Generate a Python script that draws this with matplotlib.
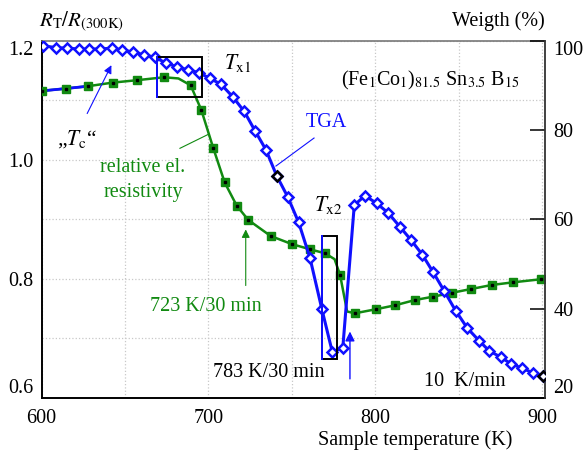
import matplotlib
matplotlib.use("Agg")
import matplotlib.pyplot as plt
from matplotlib.patches import Rectangle

plt.rcParams['font.family'] = ['Liberation Serif', 'DejaVu Serif']
plt.rcParams['mathtext.fontset'] = 'stix'

# ---------------- data ----------------
tga_T = [601.0, 608.7, 615.4, 622.3, 628.6, 635.0, 642.0, 648.2, 655.0, 661.4,
         668.0, 674.4, 681.0, 688.0, 694.3, 700.9, 707.5, 714.5, 721.4, 727.8,
         734.4, 740.8, 747.5, 754.0, 760.8, 767.8, 774.1, 780.4, 787.3, 793.7,
         800.7, 807.7, 814.7, 821.2, 828.0, 834.6, 841.2, 848.0, 855.0, 862.0,
         868.1, 875.0, 881.1, 887.9, 894.1, 900.5]
tga_W = [98.95, 98.5, 98.4, 98.2, 98.2, 98.2, 98.4, 98.0, 97.5, 96.9,
         96.3, 95.1, 94.2, 93.5, 92.9, 91.6, 90.3, 87.5, 84.2, 79.9,
         75.6, 69.8, 65.0, 59.3, 51.3, 40.0, 30.3, 31.1, 63.2, 65.3,
         63.6, 61.4, 58.3, 55.4, 52.1, 48.1, 43.9, 39.5, 35.6, 32.8,
         30.5, 29.1, 27.6, 26.6, 25.6, 24.9]
tga_black_T = [740.8, 900.5]
tga_black_W = [69.8, 24.9]

res_T = [600.0, 614.5, 628.0, 642.6, 657.0, 673.4, 689.3, 695.7, 702.9, 709.7,
         716.9, 723.8, 737.2, 749.8, 760.8, 769.8, 778.8, 787.7, 800.1, 811.7,
         823.7, 834.6, 846.0, 857.2, 869.6, 882.5, 898.9]
res_R = [1.116, 1.120, 1.124, 1.130, 1.134, 1.139, 1.1255, 1.084, 1.0195, 0.962,
         0.923, 0.899, 0.872, 0.8585, 0.8496, 0.8429, 0.8064, 0.742, 0.7487, 0.7554,
         0.7643, 0.770, 0.7766, 0.7828, 0.7896, 0.7941, 0.7992]
# line path of the smoothed resistivity curve (markers + read bend points)
res_line_T = [600.0, 614.5, 628.0, 642.6, 657.0, 673.4, 682.0, 689.3, 695.7, 702.9,
              709.7, 716.9, 723.8, 737.2, 749.8, 760.8, 769.8, 775.5, 778.8, 783.0,
              787.7, 800.1, 811.7, 823.7, 834.6, 846.0, 857.2, 869.6, 882.5, 898.9]
res_line_R = [1.116, 1.120, 1.124, 1.130, 1.134, 1.139, 1.137, 1.1255, 1.084, 1.0195,
              0.962, 0.923, 0.899, 0.872, 0.8585, 0.8496, 0.8429, 0.833, 0.8064, 0.745,
              0.742, 0.7487, 0.7554, 0.7643, 0.770, 0.7766, 0.7828, 0.7896, 0.7941, 0.7992]

x_ticks = [600, 700, 800, 900]
x_minor = [650, 750, 850]
y_ticks = [0.6, 0.8, 1.0, 1.2]
y_minor = [0.7, 0.9, 1.1]
w_ticks = [20, 40, 60, 80, 100]

GREEN = '#118a11'
BLUE = '#1010ff'

# ---------------- figure ----------------
fig = plt.figure(figsize=(5.88, 4.5), dpi=100)
ax = fig.add_axes([41.5 / 588, 1 - 397.7 / 450, (545 - 41.5) / 588, (397.7 - 41) / 450])
ax.set_xlim(600, 901.5)
ax.set_ylim(0.6, 1.2)
ax.set_xticks(x_ticks)
ax.set_xticks(x_minor, minor=True)
ax.set_yticks(y_ticks)
ax.set_yticks(y_minor, minor=True)
ax.set_yticklabels(['%.1f' % v for v in y_ticks])
ax.grid(True, which='both', color='#c8c8c8', linestyle=':', linewidth=0.9)
ax.set_axisbelow(True)
ax.tick_params(which='both', length=0, labelsize=14.5)
ax.tick_params(axis='x', pad=8)
ax.tick_params(axis='y', pad=6)
for lab in ax.get_yticklabels():
    if lab.get_text() == '1.2':
        lab.set_va('top')
    elif lab.get_text() == '0.6':
        lab.set_va('bottom')
for s in ['left', 'bottom']:
    ax.spines[s].set_color('black')
    ax.spines[s].set_linewidth(1.4)
ax.spines['top'].set_color('#777777')
ax.spines['top'].set_linewidth(1.2)
ax.spines['right'].set_visible(False)

# resistivity curve
ax.plot(res_line_T, res_line_R, color=GREEN, lw=1.8, zorder=3)
ax.plot(res_line_T[:3], res_line_R[:3], color=BLUE, lw=2.0, zorder=3)
ax.plot(res_T, res_R, linestyle='none', marker='s', ms=5.2, mfc=GREEN, mec=GREEN, zorder=4)
ax.plot(res_T, res_R, linestyle='none', marker='s', ms=1.5, mfc='black', mec='black', zorder=5)

# TGA curve
ax2 = ax.twinx()
ax2.set_ylim(20, 100)
ax2.set_yticks(w_ticks)
ax2.tick_params(axis='y', direction='in', length=11, width=1.1, pad=6, labelsize=14.5)
for lab in ax2.get_yticklabels():
    if lab.get_text() == '100':
        lab.set_va('top')
    elif lab.get_text() == '20':
        lab.set_va('bottom')
for s in ['left', 'bottom', 'top']:
    ax2.spines[s].set_visible(False)
ax2.spines['right'].set_color('#333333')
ax2.spines['right'].set_linewidth(1.3)

ax2.plot(tga_T, tga_W, color=BLUE, lw=2.2, marker='D', ms=5.5, mfc='white',
         mec=BLUE, mew=1.8, zorder=3)
ax2.plot(tga_black_T, tga_black_W, linestyle='none', marker='D', ms=5.5, mfc='none',
         mec='black', mew=1.8, zorder=4)

T = ax.transData
# boxes
ax2.add_patch(Rectangle((669.3, 1.1063), 27.0, 0.0673, fill=False, ec='black', lw=1.4,
                        transform=T, zorder=6))
ax2.plot([669.3, 669.3], [1.1063, 1.1736], color=BLUE, lw=1.4, transform=T, zorder=7)
ax2.add_patch(Rectangle((767.8, 0.6646), 9.0, 0.2074, fill=False, ec='black', lw=1.4,
                        transform=T, zorder=6))
ax2.plot([767.8, 767.8], [0.6646, 0.872], color=BLUE, lw=1.4, transform=T, zorder=7)

# annotation lines / arrows
ax2.plot([763.2, 740.4], [1.0368, 0.9897], color=BLUE, lw=0.8, transform=T, zorder=6)
ax2.plot([682.9, 699.9], [1.0195, 1.043], color=GREEN, lw=0.8, transform=T, zorder=6)
ax2.annotate('', xy=(642.6, 1.1635), xytext=(626.6, 1.0738), xycoords=T, textcoords=T,
             arrowprops=dict(arrowstyle='-|>', color=BLUE, lw=0.8, mutation_scale=12))
ax2.annotate('', xy=(722.3, 0.8877), xytext=(722.3, 0.784), xycoords=T, textcoords=T,
             arrowprops=dict(arrowstyle='-|>', color=GREEN, lw=0.8, mutation_scale=12))
ax2.annotate('', xy=(784.7, 0.716), xytext=(784.7, 0.627), xycoords=T, textcoords=T,
             arrowprops=dict(arrowstyle='-|>', color=BLUE, lw=1.0, mutation_scale=14))

# texts inside
fs = 14.5
ax2.text(770.8, 1.0637, 'TGA', color=BLUE, fontsize=fs, ha='center', va='center', transform=T)
ax2.text(717.7, 1.163, r'$T_{\mathrm{x1}}$', fontsize=fs + 1, ha='center', va='center', transform=T)
ax2.text(771.7, 0.924, r'$T_{\mathrm{x2}}$', fontsize=fs + 1, ha='center', va='center', transform=T)
ax2.text(621.3, 1.035, '\u201e$T_{\\mathrm{c}}$\u201c', fontsize=fs + 1, ha='center', va='center', transform=T)
ax2.text(660.8, 0.988, 'relative el.', color=GREEN, fontsize=fs, ha='center', va='center', transform=T)
ax2.text(660.8, 0.946, 'resistivity', color=GREEN, fontsize=fs, ha='center', va='center', transform=T)
ax2.text(698.5, 0.754, '723 K/30 min', color=GREEN, fontsize=fs, ha='center', va='center', transform=T)
ax2.text(736.2, 0.642, '783 K/30 min', color='black', fontsize=fs, ha='center', va='center', transform=T)
ax2.text(853.6, 0.628, '10  K/min', color='black', fontsize=fs, ha='center', va='center', transform=T)
ax2.text(832.6, 1.126, r'(Fe$_1$Co$_1$)$_{81.5}$ Sn$_{3.5}$ B$_{15}$', fontsize=fs,
         ha='center', va='baseline', transform=T)

# texts outside
fig.text(81 / 588, 1 - 22 / 450, r'$R_{\mathrm{T}}/R_{(300\mathrm{K})}$', fontsize=fs + 0.5,
         ha='center', va='center')
fig.text(498 / 588, 1 - 21 / 450, 'Weigth (%)', fontsize=fs, ha='center', va='center')
fig.text(415 / 588, 1 - 440 / 450, 'Sample temperature (K)', fontsize=fs, ha='center', va='center')

fig.savefig('out.png', dpi=100)
